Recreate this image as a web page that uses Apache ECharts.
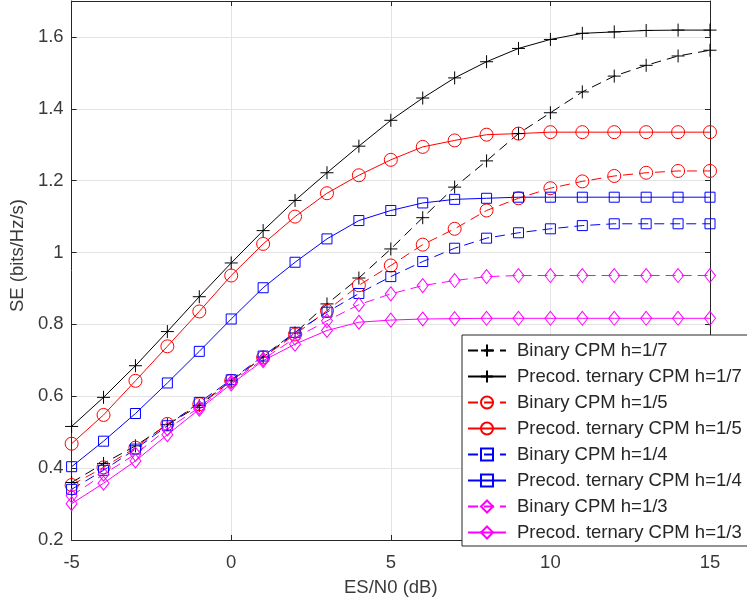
<!DOCTYPE html>
<html>
<head>
<meta charset="utf-8">
<script src="https://cdn.jsdelivr.net/npm/echarts@6/dist/echarts.min.js"></script>
<style>
  html, body { margin: 0; padding: 0; background: #ffffff; }
  #chart { width: 747px; height: 606px; }
</style>
</head>
<body>
<div id="chart"></div>
<script>
// Es/N0 grid (dB)
const snrDb = [-5, -4, -3, -2, -1, 0, 1, 2, 3, 4, 5, 6, 7, 8, 9, 10, 11, 12, 13, 14, 15];

// Spectral efficiency (bits/Hz/s) per modulation scheme
const binaryH7 = [0.360, 0.413, 0.462, 0.521, 0.574, 0.643, 0.709, 0.776, 0.857, 0.929, 1.010, 1.097, 1.182, 1.255, 1.331, 1.389, 1.447, 1.491, 1.521, 1.547, 1.563];
const precodH7 = [0.516, 0.597, 0.685, 0.780, 0.877, 0.971, 1.061, 1.145, 1.222, 1.296, 1.368, 1.430, 1.486, 1.531, 1.568, 1.593, 1.610, 1.614, 1.618, 1.619, 1.619];
const binaryH5 = [0.353, 0.402, 0.457, 0.523, 0.578, 0.643, 0.708, 0.772, 0.838, 0.909, 0.964, 1.022, 1.066, 1.117, 1.151, 1.179, 1.198, 1.213, 1.222, 1.227, 1.227];
const precodH5 = [0.468, 0.548, 0.643, 0.739, 0.836, 0.936, 1.024, 1.100, 1.165, 1.215, 1.258, 1.294, 1.312, 1.328, 1.331, 1.335, 1.335, 1.335, 1.335, 1.335, 1.335];
const binaryH4 = [0.341, 0.394, 0.453, 0.518, 0.583, 0.646, 0.712, 0.778, 0.834, 0.886, 0.933, 0.975, 1.012, 1.040, 1.055, 1.066, 1.075, 1.080, 1.080, 1.080, 1.080];
const precodH4 = [0.404, 0.475, 0.552, 0.637, 0.725, 0.815, 0.902, 0.973, 1.038, 1.089, 1.117, 1.138, 1.148, 1.151, 1.154, 1.154, 1.154, 1.154, 1.154, 1.154, 1.154];
const binaryH3 = [0.323, 0.383, 0.439, 0.509, 0.569, 0.639, 0.703, 0.762, 0.810, 0.855, 0.885, 0.908, 0.922, 0.933, 0.936, 0.936, 0.936, 0.936, 0.936, 0.936, 0.936];
const precodH3 = [0.301, 0.358, 0.420, 0.493, 0.564, 0.634, 0.699, 0.745, 0.783, 0.806, 0.812, 0.815, 0.816, 0.817, 0.817, 0.817, 0.817, 0.817, 0.817, 0.817, 0.817];

const seriesNames = [
  'Binary CPM h=1/7', 'Precod. ternary CPM h=1/7',
  'Binary CPM h=1/5', 'Precod. ternary CPM h=1/5',
  'Binary CPM h=1/4', 'Precod. ternary CPM h=1/4',
  'Binary CPM h=1/3', 'Precod. ternary CPM h=1/3'
];

const FONT = '"Liberation Sans", Arial, Helvetica, sans-serif';
const TEXT_COLOR = '#3a3a3a';
const AXIS_COLOR = '#262626';
const GRID_COLOR = '#e3e3e3';

const plusSymbol = 'path://M0,6L12,6M6,0L6,12';

function curve(name, values, color, dashed, symbol, size) {
  return {
    name: name,
    type: 'line',
    data: snrDb.map((x, i) => [x, values[i]]),
    symbol: symbol,
    symbolSize: size,
    showSymbol: true,
    smooth: false,
    lineStyle: { color: color, width: 1, type: dashed ? [10, 6] : 'solid' },
    itemStyle: { color: 'rgba(0,0,0,0)', borderColor: color, borderWidth: 1 },
    emphasis: { disabled: true },
    z: 3
  };
}

const series = [
  curve(seriesNames[0], binaryH7, '#000000', true, plusSymbol, 13),
  curve(seriesNames[1], precodH7, '#000000', false, plusSymbol, 13),
  curve(seriesNames[2], binaryH5, '#ff0000', true, 'circle', 13),
  curve(seriesNames[3], precodH5, '#ff0000', false, 'circle', 13),
  curve(seriesNames[4], binaryH4, '#0000ff', true, 'rect', 10),
  curve(seriesNames[5], precodH4, '#0000ff', false, 'rect', 10),
  curve(seriesNames[6], binaryH3, '#ff00ff', true, 'diamond', [11, 14]),
  curve(seriesNames[7], precodH3, '#ff00ff', false, 'diamond', [11, 14])
];

const boxTick = { show: true, inside: true, length: 5, lineStyle: { color: AXIS_COLOR, width: 1 } };
const boxLine = { show: true, onZero: false, lineStyle: { color: AXIS_COLOR, width: 1 } };

const chart = echarts.init(document.getElementById('chart'), null, { renderer: 'canvas' });
chart.setOption({
  animation: false,
  backgroundColor: '#ffffff',
  textStyle: { fontFamily: FONT },
  grid: { left: 71, right: 37, top: 1, bottom: 66, containLabel: false },
  xAxis: [
    {
      type: 'value', min: -5, max: 15, interval: 5, position: 'bottom',
      name: 'ES/N0 (dB)', nameLocation: 'middle', nameGap: 38,
      nameTextStyle: { color: TEXT_COLOR, fontSize: 18.5, fontFamily: FONT },
      axisLine: boxLine, axisTick: boxTick,
      axisLabel: { color: TEXT_COLOR, fontSize: 18.5, fontFamily: FONT, margin: 13 },
      splitLine: { show: true, lineStyle: { color: GRID_COLOR, width: 1 } }
    },
    {
      type: 'value', min: -5, max: 15, interval: 5, position: 'top',
      axisLine: boxLine, axisTick: boxTick,
      axisLabel: { show: false }, splitLine: { show: false }
    }
  ],
  yAxis: [
    {
      type: 'value', min: 0.2, max: 1.7, interval: 0.2, position: 'left',
      name: 'SE (bits/Hz/s)', nameLocation: 'middle', nameGap: 42,
      nameTextStyle: { color: TEXT_COLOR, fontSize: 18.5, fontFamily: FONT, padding: [0, 0, 0, 30] },
      axisLine: boxLine, axisTick: boxTick,
      axisLabel: { color: TEXT_COLOR, fontSize: 18.5, fontFamily: FONT, margin: 8, showMaxLabel: false,
        formatter: v => (v > 1.65 ? '' : String(Math.round(v * 10) / 10)) },
      splitLine: { show: true, lineStyle: { color: GRID_COLOR, width: 1 } }
    },
    {
      type: 'value', min: 0.2, max: 1.7, interval: 0.2, position: 'right',
      axisLine: boxLine, axisTick: boxTick,
      axisLabel: { show: false }, splitLine: { show: false }
    }
  ],
  legend: {
    data: seriesNames,
    orient: 'vertical',
    left: 462,
    top: 335,
    padding: [6, 8, 4, 5],
    itemGap: 7,
    itemWidth: 38,
    itemHeight: 15,
    backgroundColor: '#ffffff',
    borderColor: AXIS_COLOR,
    borderWidth: 1,
    borderRadius: 0,
    selectedMode: false,
    textStyle: { color: '#262626', fontSize: 18.5, fontFamily: FONT, padding: [0, 0, 0, 6] }
  },
  series: series
});
</script>
</body>
</html>
